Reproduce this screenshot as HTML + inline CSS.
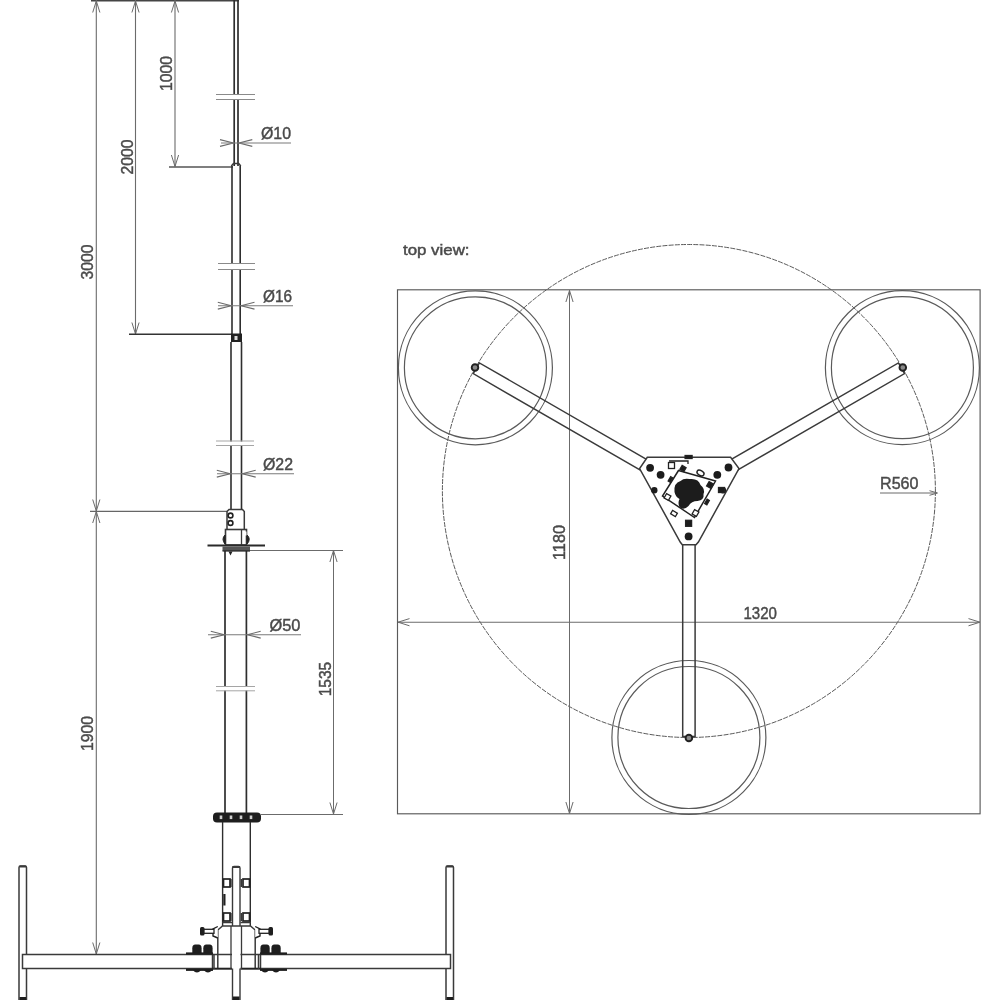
<!DOCTYPE html>
<html lang="en"><head><meta charset="utf-8"><title>Dimension drawing</title>
<style>
html,body{margin:0;padding:0;background:#fff}
svg{display:block;filter:blur(0.45px)}
text{font-family:"Liberation Sans",sans-serif;fill:#4a4a4a;stroke:#4a4a4a;stroke-width:0.45px}
</style></head><body>
<svg width="1000" height="1000" viewBox="0 0 1000 1000">
<rect width="1000" height="1000" fill="#fff"/>
<g id="front">
<line x1="91" y1="0.6" x2="239" y2="0.6" stroke="#444" stroke-width="1.8" />
<line x1="96.3" y1="0" x2="96.3" y2="954" stroke="#6b6b6b" stroke-width="1.1" />
<line x1="135.5" y1="0" x2="135.5" y2="334" stroke="#6b6b6b" stroke-width="1.1" />
<line x1="175" y1="0" x2="175" y2="166" stroke="#6b6b6b" stroke-width="1.1" />
<path d="M99.9 12.5 L96.3 1 L92.7 12.5" fill="none" stroke="#6b6b6b" stroke-width="1"/>
<path d="M139.1 12.5 L135.5 1 L131.9 12.5" fill="none" stroke="#6b6b6b" stroke-width="1"/>
<path d="M178.6 12.5 L175 1 L171.4 12.5" fill="none" stroke="#6b6b6b" stroke-width="1"/>
<path d="M171.4 155.0 L175 166.5 L178.6 155.0" fill="none" stroke="#6b6b6b" stroke-width="1"/>
<path d="M131.9 322.5 L135.5 334 L139.1 322.5" fill="none" stroke="#6b6b6b" stroke-width="1"/>
<path d="M92.7 499.5 L96.3 511 L99.9 499.5" fill="none" stroke="#6b6b6b" stroke-width="1"/>
<path d="M99.9 523.0 L96.3 511.5 L92.7 523.0" fill="none" stroke="#6b6b6b" stroke-width="1"/>
<path d="M92.7 942.5 L96.3 954 L99.9 942.5" fill="none" stroke="#6b6b6b" stroke-width="1"/>
<line x1="169" y1="167" x2="233" y2="167" stroke="#555" stroke-width="1.3" />
<line x1="129" y1="334.3" x2="232" y2="334.3" stroke="#333" stroke-width="1.4" />
<line x1="90" y1="511.3" x2="228" y2="511.3" stroke="#666" stroke-width="1.3" />
<line x1="333.5" y1="550" x2="333.5" y2="814" stroke="#6b6b6b" stroke-width="1" />
<path d="M337.1 562.0 L333.5 550.5 L329.9 562.0" fill="none" stroke="#6b6b6b" stroke-width="1"/>
<path d="M329.9 802.5 L333.5 814 L337.1 802.5" fill="none" stroke="#6b6b6b" stroke-width="1"/>
<line x1="250" y1="550.5" x2="343" y2="550.5" stroke="#6b6b6b" stroke-width="1" />
<line x1="261" y1="814.5" x2="343" y2="814.5" stroke="#6b6b6b" stroke-width="1" />
<text transform="translate(93.3 262) rotate(-90)" text-anchor="middle" font-size="17" textLength="35" lengthAdjust="spacingAndGlyphs">3000</text>
<text transform="translate(132.5 157) rotate(-90)" text-anchor="middle" font-size="17" textLength="35" lengthAdjust="spacingAndGlyphs">2000</text>
<text transform="translate(172.2 73.5) rotate(-90)" text-anchor="middle" font-size="17" textLength="35" lengthAdjust="spacingAndGlyphs">1000</text>
<text transform="translate(93.3 733.5) rotate(-90)" text-anchor="middle" font-size="17" textLength="35" lengthAdjust="spacingAndGlyphs">1900</text>
<text transform="translate(330.7 679) rotate(-90)" text-anchor="middle" font-size="17" textLength="34.5" lengthAdjust="spacingAndGlyphs">1535</text>
<line x1="234.2" y1="0" x2="234.2" y2="95" stroke="#2e2e2e" stroke-width="1.7" />
<line x1="238" y1="0" x2="238" y2="95" stroke="#2e2e2e" stroke-width="1.7" />
<line x1="234.2" y1="99" x2="234.2" y2="166" stroke="#2e2e2e" stroke-width="1.7" />
<line x1="238" y1="99" x2="238" y2="166" stroke="#2e2e2e" stroke-width="1.7" />
<line x1="216" y1="94.5" x2="255" y2="94.5" stroke="#8a8a8a" stroke-width="1" />
<line x1="216" y1="99.5" x2="255" y2="99.5" stroke="#8a8a8a" stroke-width="1" />
<line x1="232" y1="166" x2="232" y2="264" stroke="#2e2e2e" stroke-width="1.6" />
<line x1="240.2" y1="166" x2="240.2" y2="264" stroke="#2e2e2e" stroke-width="1.6" />
<line x1="232" y1="269" x2="232" y2="334" stroke="#2e2e2e" stroke-width="1.6" />
<line x1="240.2" y1="269" x2="240.2" y2="334" stroke="#2e2e2e" stroke-width="1.6" />
<line x1="218" y1="263.5" x2="255" y2="263.5" stroke="#8a8a8a" stroke-width="1" />
<line x1="218" y1="269.5" x2="255" y2="269.5" stroke="#8a8a8a" stroke-width="1" />
<line x1="231" y1="342" x2="231" y2="441.5" stroke="#2e2e2e" stroke-width="1.6" />
<line x1="241.5" y1="342" x2="241.5" y2="441.5" stroke="#2e2e2e" stroke-width="1.6" />
<line x1="231" y1="445" x2="231" y2="510" stroke="#2e2e2e" stroke-width="1.6" />
<line x1="241.5" y1="445" x2="241.5" y2="510" stroke="#2e2e2e" stroke-width="1.6" />
<line x1="216" y1="441" x2="254" y2="441" stroke="#a5a5a5" stroke-width="1" />
<line x1="216" y1="445.5" x2="254" y2="445.5" stroke="#a5a5a5" stroke-width="1" />
<line x1="225" y1="551" x2="225" y2="687" stroke="#2e2e2e" stroke-width="1.7" />
<line x1="246.4" y1="551" x2="246.4" y2="687" stroke="#2e2e2e" stroke-width="1.7" />
<line x1="225" y1="690.5" x2="225" y2="813" stroke="#2e2e2e" stroke-width="1.7" />
<line x1="246.4" y1="690.5" x2="246.4" y2="813" stroke="#2e2e2e" stroke-width="1.7" />
<line x1="216" y1="686.5" x2="255" y2="686.5" stroke="#a5a5a5" stroke-width="1" />
<line x1="216" y1="690.8" x2="255" y2="690.8" stroke="#a5a5a5" stroke-width="1" />
<path d="M231.3 166 L233.5 163.5 L238.7 163.5 L240.8 166" fill="none" stroke="#3a3a3a" stroke-width="1.5"/>
<rect x="231" y="333.5" width="11" height="8.5" fill="#222"/>
<rect x="234.5" y="336" width="3" height="4" fill="#ddd"/>
<text x="261" y="138.5" text-anchor="start" font-size="17" textLength="30" lengthAdjust="spacingAndGlyphs">Ø10</text>
<line x1="221" y1="143" x2="291" y2="143" stroke="#7a7a7a" stroke-width="1.1" />
<path d="M220.0 146.4 L233.5 143 L220.0 139.6" fill="none" stroke="#6b6b6b" stroke-width="1.1"/>
<path d="M252.3 139.6 L238.8 143 L252.3 146.4" fill="none" stroke="#6b6b6b" stroke-width="1.1"/>
<text x="263" y="301.5" text-anchor="start" font-size="17" textLength="29" lengthAdjust="spacingAndGlyphs">Ø16</text>
<line x1="218" y1="305.7" x2="293" y2="305.7" stroke="#7a7a7a" stroke-width="1.1" />
<path d="M217.8 309.1 L231.3 305.7 L217.8 302.3" fill="none" stroke="#6b6b6b" stroke-width="1.1"/>
<path d="M254.5 302.3 L241 305.7 L254.5 309.1" fill="none" stroke="#6b6b6b" stroke-width="1.1"/>
<text x="263" y="469.5" text-anchor="start" font-size="17" textLength="30" lengthAdjust="spacingAndGlyphs">Ø22</text>
<line x1="217" y1="473.7" x2="294" y2="473.7" stroke="#7a7a7a" stroke-width="1.1" />
<path d="M216.8 477.1 L230.3 473.7 L216.8 470.3" fill="none" stroke="#6b6b6b" stroke-width="1.1"/>
<path d="M255.7 470.3 L242.2 473.7 L255.7 477.1" fill="none" stroke="#6b6b6b" stroke-width="1.1"/>
<text x="269.5" y="630.5" text-anchor="start" font-size="17" textLength="31" lengthAdjust="spacingAndGlyphs">Ø50</text>
<line x1="208" y1="634.7" x2="301" y2="634.7" stroke="#7a7a7a" stroke-width="1.1" />
<path d="M210.8 638.1 L224.3 634.7 L210.8 631.3" fill="none" stroke="#6b6b6b" stroke-width="1.1"/>
<path d="M260.7 631.3 L247.2 634.7 L260.7 638.1" fill="none" stroke="#6b6b6b" stroke-width="1.1"/>
<path d="M227 529 L227 511.5 L229 509.5 L242.5 509.5 L244.3 511.5 L244.3 529" fill="#fff" stroke="#3a3a3a" stroke-width="1.5"/>
<circle cx="230.5" cy="515.5" r="2.4" fill="#fff" stroke="#222" stroke-width="1.6"/>
<circle cx="230.5" cy="523" r="2.4" fill="#fff" stroke="#222" stroke-width="1.6"/>
<rect x="225.5" y="529.5" width="21" height="15.5" fill="#fff" stroke="#3a3a3a" stroke-width="1.6"/>
<line x1="241.5" y1="530" x2="241.5" y2="545" stroke="#3a3a3a" stroke-width="1.3" />
<path d="M225 535 Q221 539 225 544 Z" fill="#222" stroke="#222"/>
<path d="M247 535 Q251.5 539 247 544 Z" fill="#222" stroke="#222"/>
<rect x="244.5" y="531.5" width="2" height="4" fill="#fff"/>
<line x1="207.5" y1="545.5" x2="265" y2="545.5" stroke="#2a2a2a" stroke-width="2.2" />
<rect x="222.5" y="546.5" width="27.5" height="4.5" fill="#555"/>
<line x1="222.5" y1="551" x2="250" y2="551" stroke="#222" stroke-width="1.2" />
<path d="M228.5 551.5 L232.5 551.5 L230.5 555.5 Z" fill="#222"/>
<rect x="213" y="812.5" width="48" height="10" rx="4" fill="#1e1e1e"/>
<rect x="219.7" y="815.5" width="2.6" height="3.6" fill="#cfcfcf"/>
<rect x="229.7" y="815.5" width="2.6" height="3.6" fill="#cfcfcf"/>
<rect x="239.7" y="815.5" width="2.6" height="3.6" fill="#cfcfcf"/>
<rect x="249.7" y="815.5" width="2.6" height="3.6" fill="#cfcfcf"/>
<line x1="222.6" y1="822" x2="222.6" y2="926" stroke="#2e2e2e" stroke-width="1.4" />
<line x1="250.3" y1="822" x2="250.3" y2="926" stroke="#2e2e2e" stroke-width="1.4" />
<path d="M232.5 1000 L232.5 868 Q232.5 866.5 234 866.5 L238.5 866.5 Q240 866.5 240 868 L240 1000" fill="#fff" stroke="#3a3a3a" stroke-width="1.4"/>
<line x1="232.5" y1="867" x2="240" y2="867" stroke="#3a3a3a" stroke-width="2" />
<rect x="223.5" y="879" width="6.5" height="8" fill="#fff" stroke="#222" stroke-width="1.7"/>
<rect x="243" y="879" width="6.5" height="8" fill="#fff" stroke="#222" stroke-width="1.7"/>
<line x1="231" y1="879" x2="231" y2="887" stroke="#222" stroke-width="1.2" />
<line x1="241.3" y1="879" x2="241.3" y2="887" stroke="#222" stroke-width="1.2" />
<rect x="223.5" y="913" width="6.5" height="8" fill="#fff" stroke="#222" stroke-width="1.7"/>
<rect x="243" y="913" width="6.5" height="8" fill="#fff" stroke="#222" stroke-width="1.7"/>
<line x1="231" y1="913" x2="231" y2="921" stroke="#222" stroke-width="1.2" />
<line x1="241.3" y1="913" x2="241.3" y2="921" stroke="#222" stroke-width="1.2" />
<rect x="223.3" y="894" width="2.2" height="11.5" fill="#222"/>
<line x1="222" y1="922.5" x2="232" y2="922.5" stroke="#3a3a3a" stroke-width="1.5" />
<line x1="240.5" y1="922.5" x2="251" y2="922.5" stroke="#3a3a3a" stroke-width="1.5" />
</g>
<g id="base">
<path d="M19 1001 L19 867.5 Q19 866 20.5 866 L25 866 Q26.5 866 26.5 867.5 L26.5 1001" fill="#fff" stroke="#3a3a3a" stroke-width="1.5"/>
<line x1="19.5" y1="866.5" x2="26" y2="866.5" stroke="#3a3a3a" stroke-width="2" />
<path d="M446 1001 L446 867.5 Q446 866 447.5 866 L452 866 Q453.5 866 453.5 867.5 L453.5 1001" fill="#fff" stroke="#3a3a3a" stroke-width="1.5"/>
<line x1="446.5" y1="866.5" x2="453" y2="866.5" stroke="#3a3a3a" stroke-width="2" />
<rect x="22.5" y="954.5" width="190" height="14" fill="#fff" stroke="#3a3a3a" stroke-width="1.5"/>
<rect x="260.5" y="954.5" width="190" height="14" fill="#fff" stroke="#3a3a3a" stroke-width="1.5"/>
<path d="M217.8 968.5 L217.8 930 L222.5 926 L250.5 926 L255.2 930 L255.2 968.5" fill="#fff" stroke="#3a3a3a" stroke-width="1.5"/>
<line x1="212" y1="954.5" x2="232" y2="954.5" stroke="#3a3a3a" stroke-width="1.5" />
<line x1="240.5" y1="954.5" x2="261" y2="954.5" stroke="#3a3a3a" stroke-width="1.5" />
<line x1="212" y1="968.7" x2="232" y2="968.7" stroke="#222" stroke-width="2" />
<line x1="240.5" y1="968.7" x2="261" y2="968.7" stroke="#222" stroke-width="2" />
<line x1="214" y1="954" x2="214" y2="969" stroke="#3a3a3a" stroke-width="1.5" />
<line x1="258.5" y1="954" x2="258.5" y2="969" stroke="#3a3a3a" stroke-width="1.5" />
<line x1="231" y1="926" x2="231" y2="969" stroke="#3a3a3a" stroke-width="1.3" />
<line x1="241.5" y1="926" x2="241.5" y2="969" stroke="#3a3a3a" stroke-width="1.3" />
<path d="M217.8 926.5 L213 929 L213 936 L217.8 938" fill="#fff" stroke="#222" stroke-width="1.4"/>
<path d="M255.2 926.5 L260 929 L260 936 L255.2 938" fill="#fff" stroke="#222" stroke-width="1.4"/>
<rect x="200" y="927" width="4.5" height="8.5" rx="1.5" fill="#1e1e1e"/>
<rect x="204" y="929.3" width="10" height="4" fill="#fff" stroke="#222" stroke-width="1.3"/>
<rect x="268.5" y="927" width="4.5" height="8.5" rx="1.5" fill="#1e1e1e"/>
<rect x="259" y="929.3" width="10" height="4" fill="#fff" stroke="#222" stroke-width="1.3"/>
<path d="M192.3 953.5 L192.3 948.2 Q192.3 944.6 195.3 944.6 L198.60000000000002 944.6 Q201.60000000000002 944.6 201.60000000000002 948.2 L201.60000000000002 953.5 Z" fill="#1e1e1e"/>
<path d="M192.3 969.5 Q196.9 975.5 201.60000000000002 969.5 Z" fill="#1e1e1e"/>
<path d="M203.3 953.5 L203.3 948.2 Q203.3 944.6 206.3 944.6 L209.60000000000002 944.6 Q212.60000000000002 944.6 212.60000000000002 948.2 L212.60000000000002 953.5 Z" fill="#1e1e1e"/>
<path d="M203.3 969.5 Q207.9 975.5 212.60000000000002 969.5 Z" fill="#1e1e1e"/>
<path d="M260.4 953.5 L260.4 948.2 Q260.4 944.6 263.4 944.6 L266.7 944.6 Q269.7 944.6 269.7 948.2 L269.7 953.5 Z" fill="#1e1e1e"/>
<path d="M260.4 969.5 Q265.0 975.5 269.7 969.5 Z" fill="#1e1e1e"/>
<path d="M271.4 953.5 L271.4 948.2 Q271.4 944.6 274.4 944.6 L277.7 944.6 Q280.7 944.6 280.7 948.2 L280.7 953.5 Z" fill="#1e1e1e"/>
<path d="M271.4 969.5 Q276.0 975.5 280.7 969.5 Z" fill="#1e1e1e"/>
<line x1="186" y1="953.5" x2="213" y2="953.5" stroke="#1e1e1e" stroke-width="2.2" />
<line x1="260" y1="953.5" x2="287" y2="953.5" stroke="#1e1e1e" stroke-width="2.2" />
<line x1="186" y1="969.8" x2="213" y2="969.8" stroke="#1e1e1e" stroke-width="2.2" />
<line x1="260" y1="969.8" x2="287" y2="969.8" stroke="#1e1e1e" stroke-width="2.2" />
<rect x="233" y="996.5" width="6.5" height="4" fill="#1e1e1e"/>
<rect x="19.5" y="997" width="6.5" height="4" fill="#1e1e1e"/>
<rect x="446.5" y="997" width="6.5" height="4" fill="#1e1e1e"/>
</g>
<g id="top">
<text x="403" y="254.5" text-anchor="start" font-size="14.5" textLength="66.5" lengthAdjust="spacingAndGlyphs">top view:</text>
<rect x="397.5" y="289.8" width="582.6" height="524" fill="none" stroke="#5a5a5a" stroke-width="1.15"/>
<circle cx="688.9" cy="491.0" r="246.5" fill="none" stroke="#5a5a5a" stroke-width="1" stroke-dasharray="5 1.2"/>
<circle cx="475.4" cy="367.8" r="77" fill="none" stroke="#5a5a5a" stroke-width="1.2"/>
<circle cx="475.4" cy="367.8" r="71" fill="none" stroke="#5a5a5a" stroke-width="1.2"/>
<circle cx="902.4" cy="367.7" r="77" fill="none" stroke="#5a5a5a" stroke-width="1.2"/>
<circle cx="902.4" cy="367.7" r="71" fill="none" stroke="#5a5a5a" stroke-width="1.2"/>
<circle cx="688.9" cy="737.5" r="77" fill="none" stroke="#5a5a5a" stroke-width="1.2"/>
<circle cx="688.9" cy="737.5" r="71" fill="none" stroke="#5a5a5a" stroke-width="1.2"/>
<line x1="569.5" y1="290" x2="569.5" y2="813.5" stroke="#6b6b6b" stroke-width="1" />
<path d="M573.1 302.0 L569.5 290.5 L565.9 302.0" fill="none" stroke="#6b6b6b" stroke-width="1"/>
<path d="M565.9 802.0 L569.5 813.5 L573.1 802.0" fill="none" stroke="#6b6b6b" stroke-width="1"/>
<line x1="398" y1="622.2" x2="980" y2="622.2" stroke="#6b6b6b" stroke-width="1.1" />
<path d="M409.5 618.6 L398 622.2 L409.5 625.8" fill="none" stroke="#6b6b6b" stroke-width="1"/>
<path d="M968.5 625.8 L980 622.2 L968.5 618.6" fill="none" stroke="#6b6b6b" stroke-width="1"/>
<text transform="translate(565 542.5) rotate(-90)" text-anchor="middle" font-size="17" textLength="35" lengthAdjust="spacingAndGlyphs">1180</text>
<text x="743.5" y="618.5" text-anchor="start" font-size="17" textLength="33.5" lengthAdjust="spacingAndGlyphs">1320</text>
<text x="880" y="488.8" text-anchor="start" font-size="17" textLength="38.5" lengthAdjust="spacingAndGlyphs">R560</text>
<line x1="880" y1="493" x2="937" y2="493" stroke="#6b6b6b" stroke-width="1" />
<path d="M929.5 495.3 L937.5 493 L929.5 490.7" fill="none" stroke="#6b6b6b" stroke-width="1"/>
<path d="M648.7 460.6 L479.4 362.9 L473.2 373.6 L642.5 471.4" fill="none" stroke="#3a3a3a" stroke-width="1.5"/>
<circle cx="475.0" cy="367.5" r="3.3" fill="#8a8a8a" stroke="#222" stroke-width="1.9"/>
<path d="M735.3 471.4 L904.6 373.6 L898.4 362.9 L729.1 460.6" fill="none" stroke="#3a3a3a" stroke-width="1.5"/>
<circle cx="902.8" cy="367.5" r="3.3" fill="#8a8a8a" stroke="#222" stroke-width="1.9"/>
<path d="M682.7 541.0 L682.7 736.5 L695.1 736.5 L695.1 541.0" fill="none" stroke="#3a3a3a" stroke-width="1.5"/>
<circle cx="688.9" cy="738.0" r="3.3" fill="#8a8a8a" stroke="#222" stroke-width="1.9"/>
<path d="M647.3 457.3 L730.6 457.3 L739 468.5 L698.4 542 L696 544.8 L682.3 544.8 L680.2 542 L639.6 468.5 Z" fill="#fff" stroke="#3a3a3a" stroke-width="1.5"/>
<circle cx="650.1" cy="467.8" r="3.9" fill="#1c1c1c"/>
<circle cx="660.6" cy="474.8" r="3.9" fill="#1c1c1c"/>
<circle cx="728.5" cy="467.5" r="3.9" fill="#1c1c1c"/>
<circle cx="717.3" cy="474.8" r="3.9" fill="#1c1c1c"/>
<circle cx="688.6" cy="536.4" r="3.9" fill="#1c1c1c"/>
<circle cx="654.3" cy="490.2" r="3.2" fill="#1c1c1c"/>
<circle cx="722.9" cy="490.2" r="3.2" fill="#1c1c1c"/>
<path d="M678.5 470.5 L715.5 481 L694.5 517.5 L662.5 496 Z" fill="none" stroke="#222" stroke-width="1.5"/>
<path d="M674.5 492 q-1 -9 6 -11 q3 -3 9 -2 q9 -1 11 6 q5 4 3 9 q1 6 -6 7 q-6 0 -9 5 q-5 5 -9 1 q-2 -4 0 -8 q-4 -2 -5 -7 z" fill="#1c1c1c"/>
<rect x="-2.5" y="-2.5" width="5" height="5" transform="translate(667.5 497) rotate(30)" fill="#fff" stroke="#222" stroke-width="1.3"/>
<rect x="-2.75" y="-2.0" width="5.5" height="4" transform="translate(674 513.5) rotate(30)" fill="#fff" stroke="#222" stroke-width="1.3"/>
<rect x="-2.5" y="-2.5" width="5" height="5" transform="translate(695.5 513) rotate(30)" fill="#fff" stroke="#222" stroke-width="1.3"/>
<rect x="-3.0" y="-3.0" width="6" height="6" transform="translate(671.5 465.5) rotate(0)" fill="#fff" stroke="#222" stroke-width="1.3"/>
<rect x="-3.0" y="-3.0" width="6" height="6" transform="translate(688.6 523.3) rotate(0)" fill="#1c1c1c" stroke="#222" stroke-width="1.3"/>
<rect x="-3.5" y="-1.5" width="7" height="3" transform="translate(688.6 457) rotate(0)" fill="#1c1c1c" stroke="#222" stroke-width="1.3"/>
<rect x="-2.5" y="-2.5" width="5" height="5" transform="translate(710 485) rotate(30)" fill="#1c1c1c" stroke="#222" stroke-width="1.3"/>
<rect x="-3.0" y="-2.5" width="6" height="5" transform="translate(721.5 490) rotate(0)" fill="#1c1c1c" stroke="#222" stroke-width="1.3"/>
<rect x="-2.25" y="-2.25" width="4.5" height="4.5" transform="translate(683 468.5) rotate(30)" fill="#1c1c1c" stroke="#222" stroke-width="1.3"/>
<rect x="-2.5" y="-1.25" width="5" height="2.5" transform="translate(670.5 479.5) rotate(-60)" fill="#1c1c1c" stroke="#222" stroke-width="1.3"/>
<rect x="-2.5" y="-1.25" width="5" height="2.5" transform="translate(707 502) rotate(-60)" fill="#1c1c1c" stroke="#222" stroke-width="1.3"/>
<ellipse cx="700.5" cy="473" rx="3.8" ry="2.4" transform="rotate(30 700.5 473)" fill="#fff" stroke="#222" stroke-width="1.4"/>
<path d="M669 461 L688 461 L688 464" fill="none" stroke="#222" stroke-width="1.3"/>
</g>
</svg>
</body></html>
